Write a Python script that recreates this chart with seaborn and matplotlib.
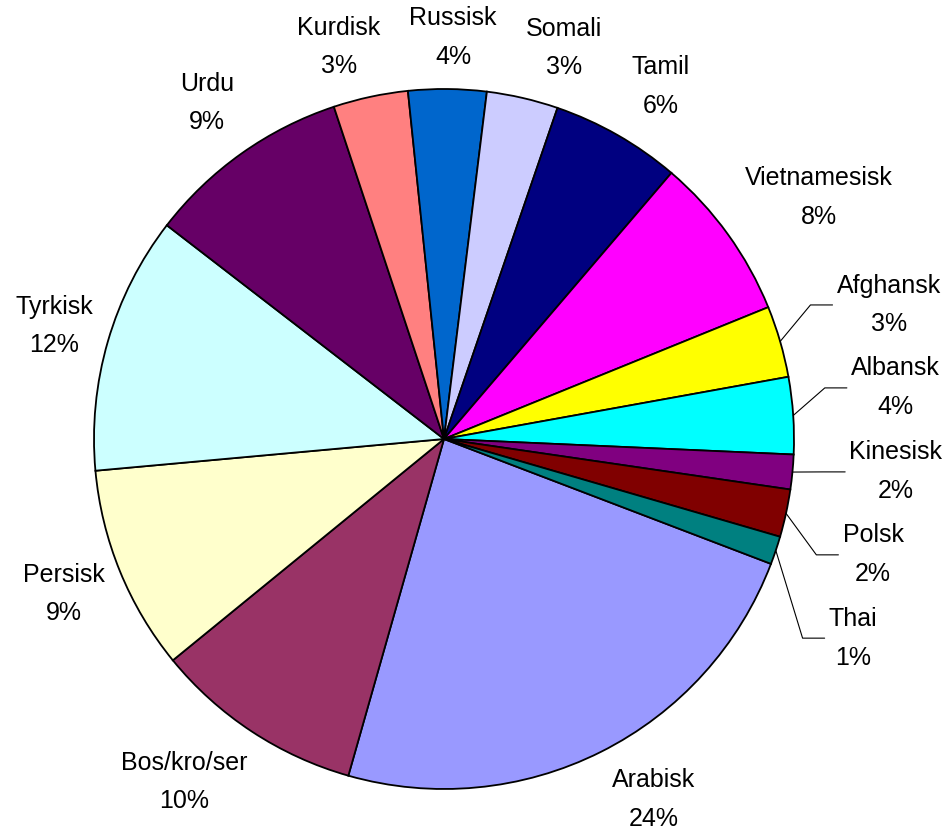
import matplotlib
matplotlib.use("Agg")
import matplotlib.pyplot as plt
import numpy as np
import seaborn as sns

# data (clockwise, Excel series order)
sprog = ["Arabisk", "Bos/kro/ser", "Persisk", "Tyrkisk", "Urdu", "Kurdisk", "Russisk",
         "Somali", "Tamil", "Vietnamesisk", "Afghansk", "Albansk", "Kinesisk", "Polsk", "Thai"]
andel = [23.6, 9.7, 9.45, 11.9, 9.45, 3.45, 3.6, 3.3, 6.0, 7.6, 3.3, 3.55, 1.6, 2.2, 1.3]
farver = ["#9999FF", "#993366", "#FFFFCC", "#CCFFFF", "#660066", "#FF8080", "#0066CC",
          "#CCCCFF", "#000080", "#FF00FF", "#FFFF00", "#00FFFF", "#800080", "#800000", "#008080"]

# label centres in pie units (radius 1), leader lines for the small right-hand slices
label_pos = [(0.600, -1.029), (-0.743, -0.980), (-1.086, -0.443), (-1.114, 0.323),
             (-0.677, 0.960), (-0.300, 1.120), (0.026, 1.146), (0.343, 1.117),
             (0.620, 1.006), (1.071, 0.691), (1.271, 0.383), (1.290, 0.146),
             (1.291, -0.094), (1.226, -0.331), (1.169, -0.569)]
med_streg = [False] * 10 + [True] * 5

sns.set_theme(style="white")
plt.rcParams['font.family'] = ['Liberation Sans', 'DejaVu Sans']

fig = plt.figure(figsize=(9.48, 8.3), dpi=100)
ax = fig.add_axes([0, 0, 1, 1])
wedges, _ = ax.pie(andel, colors=farver, startangle=90 - 110.9, counterclock=False,
                   radius=1, wedgeprops=dict(edgecolor='black', linewidth=1.3))
ax.set_xlim(-444 / 350, 504 / 350)
ax.set_ylim(-391 / 350, 439 / 350)
ax.set_aspect('auto')
ax.axis('off')

total = sum(andel)
tekster = []
for navn, v, (x, y) in zip(sprog, andel, label_pos):
    t = ax.text(x, y, f"{navn}\n{round(v / total * 100):.0f}%", ha='center', va='center',
                fontsize=18, linespacing=1.78, color='black')
    tekster.append(t)

fig.canvas.draw()
inv = ax.transData.inverted()
for w, t, streg in zip(wedges, tekster, med_streg):
    if not streg:
        continue
    mid = np.deg2rad((w.theta1 + w.theta2) / 2)
    sx, sy = np.cos(mid), np.sin(mid)
    bb = t.get_window_extent()
    (lx, ly0), (_, ly1) = inv.transform([[bb.x0, bb.y0], [bb.x1, bb.y1]])
    yc = (ly0 + ly1) / 2
    ax.plot([sx, lx - 0.075, lx - 0.012], [sy, yc, yc], color='black', lw=0.8)

fig.savefig("out.png", dpi=100)
